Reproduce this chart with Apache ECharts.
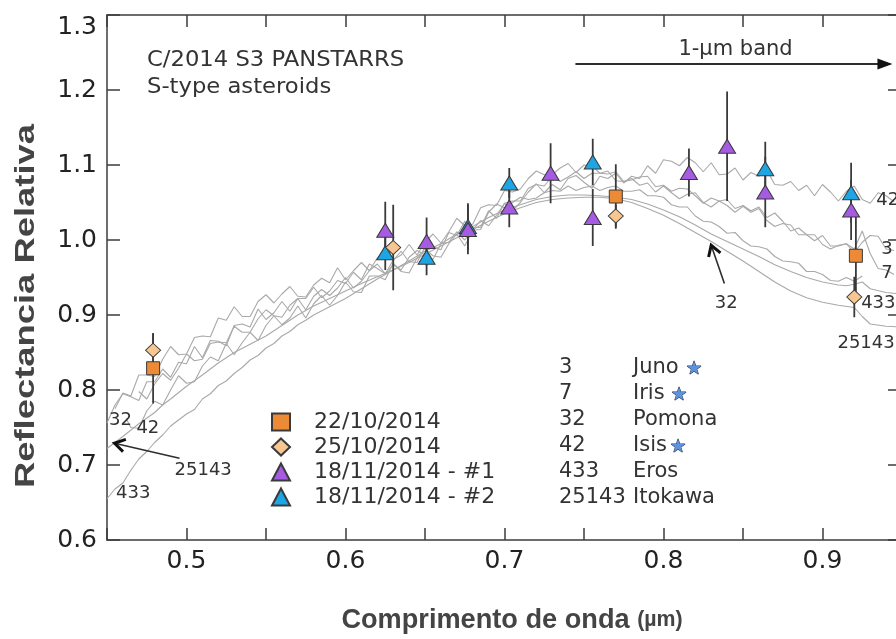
<!DOCTYPE html>
<html>
<head>
<meta charset="utf-8">
<script src="https://cdn.jsdelivr.net/npm/echarts@6/dist/echarts.min.js"></script>
<style>
  html, body { margin: 0; padding: 0; background: #fff; }
  #chart { width: 896px; height: 639px; }
</style>
</head>
<body>
<div id="chart"></div>
<script>
// ---- Axis ticks ----
const xTicks = [0.45, 0.95, 0.05];
const yTicks = [0.6, 1.3, 0.1];

// ---- Comet photometry: wavelength (µm), relative reflectance, 1-sigma error ----
const oct22Wave = [0.479, 0.770, 0.921];
const oct22Refl = [0.829, 1.058, 0.979];
const oct22Err  = [0.047, 0.043, 0.052];

const oct25Wave = [0.479, 0.630, 0.770, 0.920];
const oct25Refl = [0.853, 0.990, 1.032, 0.924];
const oct25Err  = [0.022, 0.057, 0.015, 0.027];

const nov18aWave = [0.625, 0.651, 0.677, 0.703, 0.729, 0.7555, 0.816, 0.840, 0.864, 0.918];
const nov18aRefl = [1.013, 0.998, 1.014, 1.044, 1.089, 1.030, 1.090, 1.125, 1.064, 1.040];
const nov18aErr  = [0.038, 0.032, 0.033, 0.027, 0.040, 0.038, 0.032, 0.073, 0.047, 0.040];

const nov18bWave = [0.625, 0.651, 0.677, 0.703, 0.7555, 0.864, 0.918];
const nov18bRefl = [0.983, 0.977, 1.018, 1.076, 1.104, 1.095, 1.063];
const nov18bErr  = [0.023, 0.024, 0.031, 0.020, 0.031, 0.036, 0.040];

// ---- S-type asteroid reference spectra [wavelength, reflectance] ----
const juno = [
[0.455,0.775],[0.460,0.796],[0.465,0.792],[0.470,0.820],[0.475,0.820],[0.480,0.818],[0.485,0.841],[0.490,0.858],
[0.495,0.847],[0.500,0.848],[0.505,0.870],[0.510,0.872],[0.515,0.871],[0.520,0.896],[0.525,0.893],[0.530,0.911],
[0.535,0.898],[0.540,0.898],[0.545,0.918],[0.550,0.927],[0.555,0.916],[0.560,0.928],[0.565,0.938],[0.570,0.925],
[0.575,0.924],[0.580,0.940],[0.585,0.949],[0.590,0.943],[0.595,0.963],[0.600,0.947],[0.605,0.959],[0.610,0.970],
[0.615,0.959],[0.620,0.976],[0.625,0.986],[0.630,0.974],[0.635,0.980],[0.640,0.994],[0.645,0.980],[0.650,0.997],
[0.655,1.008],[0.660,0.996],[0.665,1.011],[0.670,1.029],[0.675,1.019],[0.680,1.021],[0.685,1.043],[0.690,1.047],
[0.695,1.046],[0.700,1.066],[0.705,1.064],[0.710,1.068],[0.715,1.082],[0.720,1.092],[0.725,1.087],[0.730,1.087],
[0.735,1.096],[0.740,1.102],[0.745,1.090],[0.750,1.100],[0.755,1.099],[0.760,1.089],[0.765,1.088],[0.770,1.091],
[0.775,1.078],[0.780,1.080],[0.785,1.084],[0.790,1.085],[0.795,1.071],[0.800,1.073],[0.805,1.065],[0.810,1.069],
[0.815,1.068],[0.820,1.059],[0.825,1.049],[0.830,1.056],[0.835,1.052],[0.840,1.054],[0.845,1.042],[0.850,1.046],
[0.855,1.039],[0.860,1.044],[0.865,1.030],[0.870,1.036],[0.875,1.025],[0.880,1.012],[0.885,1.016],[0.890,1.007],
[0.895,0.999],[0.900,1.006],[0.905,0.992],[0.910,0.992],[0.915,0.995],[0.920,0.983],[0.925,0.997],[0.930,1.006],
[0.935,1.005],[0.940,0.988],[0.945,0.986]
];
const iris = [
[0.470,0.798],[0.475,0.788],[0.480,0.808],[0.485,0.822],[0.490,0.813],[0.495,0.829],[0.500,0.848],[0.505,0.839],
[0.510,0.841],[0.515,0.862],[0.520,0.864],[0.525,0.863],[0.530,0.885],[0.535,0.877],[0.540,0.877],[0.545,0.895],
[0.550,0.907],[0.555,0.899],[0.560,0.897],[0.565,0.913],[0.570,0.922],[0.575,0.907],[0.580,0.925],[0.585,0.934],
[0.590,0.926],[0.595,0.936],[0.600,0.950],[0.605,0.936],[0.610,0.945],[0.615,0.959],[0.620,0.968],[0.625,0.955],
[0.630,0.967],[0.635,0.960],[0.640,0.977],[0.645,0.986],[0.650,0.980],[0.655,0.974],[0.660,0.995],[0.665,0.997],
[0.670,1.011],[0.675,1.000],[0.680,1.016],[0.685,1.017],[0.690,1.039],[0.695,1.029],[0.700,1.049],[0.705,1.052],
[0.710,1.052],[0.715,1.069],[0.720,1.074],[0.725,1.072],[0.730,1.085],[0.735,1.078],[0.740,1.084],[0.745,1.091],
[0.750,1.082],[0.755,1.089],[0.760,1.089],[0.765,1.092],[0.770,1.079],[0.775,1.078],[0.780,1.082],[0.785,1.073],
[0.790,1.076],[0.795,1.064],[0.800,1.072],[0.805,1.063],[0.810,1.055],[0.815,1.061],[0.820,1.063],[0.825,1.050],
[0.830,1.044],[0.835,1.052],[0.840,1.046],[0.845,1.037],[0.850,1.045],[0.855,1.037],[0.860,1.042],[0.865,1.026],
[0.870,1.018],[0.875,1.022],[0.880,1.020],[0.885,1.007],[0.890,1.007],[0.895,1.007],[0.900,0.994],[0.905,0.988],
[0.910,0.993],[0.915,0.995],[0.920,0.988],[0.925,1.012],[0.930,0.982],[0.935,0.962],[0.940,0.960],[0.945,0.954]
];
const pomona = [
[0.450,0.756],[0.455,0.780],[0.460,0.795],[0.465,0.791],[0.470,0.786],[0.475,0.811],[0.480,0.811],[0.485,0.828],
[0.490,0.817],[0.495,0.837],[0.500,0.835],[0.505,0.858],[0.510,0.843],[0.515,0.866],[0.520,0.865],[0.525,0.859],
[0.530,0.886],[0.535,0.888],[0.540,0.884],[0.545,0.908],[0.550,0.894],[0.555,0.903],[0.560,0.918],[0.565,0.905],
[0.570,0.922],[0.575,0.922],[0.580,0.937],[0.585,0.923],[0.590,0.932],[0.595,0.946],[0.600,0.942],[0.605,0.957],
[0.610,0.947],[0.615,0.968],[0.620,0.962],[0.625,0.955],[0.630,0.973],[0.635,0.985],[0.640,0.971],[0.645,0.970],
[0.650,0.991],[0.655,0.991],[0.660,0.987],[0.665,1.010],[0.670,1.006],[0.675,1.025],[0.680,1.013],[0.685,1.014],
[0.690,1.037],[0.695,1.048],[0.700,1.043],[0.705,1.050],[0.710,1.057],[0.715,1.054],[0.720,1.056],[0.725,1.063],
[0.730,1.066],[0.735,1.065],[0.740,1.072],[0.745,1.066],[0.750,1.070],[0.755,1.072],[0.760,1.066],[0.765,1.070],
[0.770,1.072],[0.775,1.065],[0.780,1.065],[0.785,1.067],[0.790,1.059],[0.795,1.059],[0.800,1.057],[0.805,1.047],
[0.810,1.044],[0.815,1.044],[0.820,1.032],[0.825,1.025],[0.830,1.024],[0.835,1.018],[0.840,1.009],[0.845,1.010],
[0.850,0.999],[0.855,0.992],[0.860,0.991],[0.865,0.988],[0.870,0.978],[0.875,0.972],[0.880,0.971],[0.885,0.969],
[0.890,0.958],[0.895,0.958],[0.900,0.954],[0.905,0.946],[0.910,0.945],[0.915,0.950],[0.920,0.945],[0.925,0.952]
];
const isis = [
[0.462,0.762],[0.465,0.750],[0.470,0.749],[0.475,0.772],[0.480,0.785],[0.485,0.780],[0.490,0.800],[0.495,0.819],
[0.500,0.809],[0.505,0.811],[0.510,0.832],[0.515,0.844],[0.520,0.839],[0.525,0.862],[0.530,0.847],[0.535,0.863],
[0.540,0.877],[0.545,0.866],[0.550,0.886],[0.555,0.899],[0.560,0.887],[0.565,0.896],[0.570,0.912],[0.575,0.896],
[0.580,0.915],[0.585,0.926],[0.590,0.913],[0.595,0.926],[0.600,0.944],[0.605,0.931],[0.610,0.930],[0.615,0.952],
[0.620,0.952],[0.625,0.947],[0.630,0.969],[0.635,0.958],[0.640,0.956],[0.645,0.976],[0.650,0.988],[0.655,0.979],
[0.660,0.977],[0.665,0.995],[0.670,1.008],[0.675,0.992],[0.680,1.013],[0.685,1.026],[0.690,1.019],[0.695,1.033],
[0.700,1.049],[0.705,1.039],[0.710,1.050],[0.715,1.064],[0.720,1.075],[0.725,1.063],[0.730,1.074],[0.735,1.067],
[0.740,1.082],[0.745,1.086],[0.750,1.077],[0.755,1.069],[0.760,1.085],[0.765,1.082],[0.770,1.089],[0.775,1.076],
[0.780,1.085],[0.785,1.082],[0.790,1.099],[0.795,1.089],[0.800,1.107],[0.805,1.105],[0.810,1.099],[0.815,1.110],
[0.820,1.103],[0.825,1.091],[0.830,1.103],[0.835,1.087],[0.840,1.088],[0.845,1.096],[0.850,1.080],[0.855,1.090],
[0.860,1.085],[0.865,1.093],[0.870,1.074],[0.875,1.073],[0.880,1.078],[0.885,1.066],[0.890,1.073],[0.895,1.059],
[0.900,1.074],[0.905,1.064],[0.910,1.052],[0.915,1.065],[0.920,1.072],[0.925,1.054],[0.930,1.049],[0.935,1.063],
[0.940,1.059],[0.945,1.051]
];
const eros = [
[0.450,0.655],[0.455,0.668],[0.460,0.676],[0.465,0.693],[0.470,0.708],[0.475,0.718],[0.480,0.730],[0.485,0.740],
[0.490,0.752],[0.495,0.760],[0.500,0.768],[0.505,0.774],[0.510,0.788],[0.515,0.795],[0.520,0.806],[0.525,0.812],
[0.530,0.822],[0.535,0.830],[0.540,0.840],[0.545,0.846],[0.550,0.856],[0.555,0.862],[0.560,0.872],[0.565,0.878],
[0.570,0.887],[0.575,0.893],[0.580,0.900],[0.590,0.911],[0.600,0.922],[0.610,0.935],[0.620,0.948],[0.630,0.960],
[0.640,0.972],[0.650,0.985],[0.660,0.995],[0.670,1.008],[0.680,1.018],[0.690,1.030],[0.700,1.040],[0.710,1.047],
[0.720,1.054],[0.730,1.058],[0.740,1.060],[0.750,1.060],[0.760,1.059],[0.770,1.057],[0.780,1.054],[0.790,1.048],
[0.800,1.040],[0.810,1.031],[0.820,1.020],[0.830,1.008],[0.840,0.998],[0.850,0.988],[0.860,0.978],[0.870,0.967],
[0.880,0.958],[0.890,0.950],[0.900,0.944],[0.910,0.940],[0.915,0.939],[0.920,0.941],[0.925,0.944],[0.930,0.935],
[0.940,0.930],[0.950,0.928],[0.960,0.930]
];
const itokawa = [
[0.450,0.722],[0.460,0.738],[0.470,0.755],[0.480,0.770],[0.485,0.780],[0.490,0.788],[0.500,0.805],[0.510,0.820],
[0.520,0.836],[0.530,0.850],[0.540,0.861],[0.550,0.872],[0.560,0.886],[0.570,0.900],[0.580,0.912],[0.590,0.922],
[0.600,0.932],[0.610,0.942],[0.620,0.951],[0.630,0.960],[0.640,0.970],[0.650,0.981],[0.660,0.992],[0.670,1.003],
[0.680,1.014],[0.690,1.025],[0.700,1.035],[0.710,1.043],[0.720,1.050],[0.730,1.054],[0.740,1.056],[0.750,1.057],
[0.760,1.057],[0.770,1.055],[0.780,1.050],[0.790,1.042],[0.800,1.033],[0.810,1.022],[0.820,1.010],[0.830,0.998],
[0.840,0.985],[0.850,0.972],[0.860,0.958],[0.870,0.944],[0.880,0.932],[0.890,0.923],[0.900,0.917],[0.910,0.913],
[0.920,0.910],[0.925,0.898],[0.930,0.888],[0.940,0.885],[0.950,0.884],[0.960,0.883]
];

// ---- Legend table of the reference asteroids ----
const asteroidNumbers = ['3', '7', '32', '42', '433', '25143'];
const asteroidNames = ['Juno', 'Iris', 'Pomona', 'Isis', 'Eros', 'Itokawa'];
const asteroidStarX = [694, 679, null, 678, null, null];

const chart = echarts.init(document.getElementById('chart'), null, { renderer: 'canvas' });

const tickFont = 'DejaVu Sans';
const textFont = 'DejaVu Sans';
const axisColor = '#3c3c3c';

function zip3(w, r, e) { return w.map((x, i) => [x, r[i], e[i]]); }
function zip2(w, r) { return w.map((x, i) => [x, r[i]]); }

function errorBars(name, data) {
  return {
    type: 'custom', name: name, silent: true, z: 2,
    data: data,
    renderItem: function (params, api) {
      const x = api.value(0), y = api.value(1), e = api.value(2);
      const p1 = api.coord([x, y + e]);
      const p2 = api.coord([x, y - e]);
      return { type: 'line', shape: { x1: p1[0], y1: p1[1], x2: p2[0], y2: p2[1] },
               style: { stroke: '#3a3a3a', lineWidth: 1.8 } };
    }
  };
}

function spectrum(name, data) {
  return { type: 'line', name: name, data: data, showSymbol: false, silent: true, z: 1,
           lineStyle: { color: '#a9a9a9', width: 1.1 } };
}

function scatter(name, data, symbol, size, color) {
  return { type: 'scatter', name: name, data: data, symbol: symbol, symbolSize: size, z: 4,
           itemStyle: { color: color, borderColor: '#3a3a3a', borderWidth: 1, opacity: 1 } };
}

const option = {
  animation: false,
  backgroundColor: '#ffffff',
  grid: { left: 107, top: 15, width: 795, height: 525, outerBoundsMode: 'none', containLabel: false },
  xAxis: [{
    type: 'value', min: xTicks[0], max: xTicks[1], interval: xTicks[2],
    axisLine: { lineStyle: { color: axisColor, width: 1.5 } },
    axisTick: { inside: true, length: 12, lineStyle: { color: axisColor, width: 1.5 } },
    splitLine: { show: false },
    axisLabel: {
      margin: 9, color: '#222', fontFamily: tickFont, fontSize: 25,
      formatter: v => (Math.round(v * 100) % 10 === 0 && v > 0.46 && v < 0.94) ? v.toFixed(1) : ''
    }
  }, {
    type: 'value', position: 'top', min: xTicks[0], max: xTicks[1], interval: xTicks[2],
    axisLine: { lineStyle: { color: axisColor, width: 1.5 } },
    axisTick: { inside: true, length: 12, lineStyle: { color: axisColor, width: 1.5 } },
    splitLine: { show: false }, axisLabel: { show: false }
  }],
  yAxis: [{
    type: 'value', min: yTicks[0], max: yTicks[1], interval: yTicks[2],
    axisLine: { show: true, lineStyle: { color: axisColor, width: 1.5 } },
    axisTick: { show: true, inside: true, length: 13, lineStyle: { color: axisColor, width: 1.5 } },
    splitLine: { show: false },
    axisLabel: { margin: 10, color: '#222', fontFamily: tickFont, fontSize: 25,
                 formatter: v => v.toFixed(1), verticalAlignMaxLabel: 'top' }
  }, {
    type: 'value', position: 'right', min: yTicks[0], max: yTicks[1], interval: yTicks[2],
    axisLine: { show: true, lineStyle: { color: axisColor, width: 1.5 } },
    axisTick: { show: true, inside: true, length: 14, lineStyle: { color: axisColor, width: 1.5 } },
    splitLine: { show: false }, axisLabel: { show: false }
  }],
  legend: {
    orient: 'vertical', left: 266, top: 406, itemWidth: 18, itemHeight: 17, itemGap: 3,
    selectedMode: false,
    data: ['22/10/2014', '25/10/2014', '18/11/2014 - #1', '18/11/2014 - #2'],
    textStyle: { fontFamily: textFont, fontSize: 22, color: '#333', padding: [0, 0, 0, 19] }
  },
  series: [
    spectrum('3 Juno', juno),
    spectrum('7 Iris', iris),
    spectrum('32 Pomona', pomona),
    spectrum('42 Isis', isis),
    spectrum('433 Eros', eros),
    spectrum('25143 Itokawa', itokawa),
    errorBars('err-nov18b', zip3(nov18bWave, nov18bRefl, nov18bErr)),
    errorBars('err-nov18a', zip3(nov18aWave, nov18aRefl, nov18aErr)),
    errorBars('err-oct22', zip3(oct22Wave, oct22Refl, oct22Err)),
    errorBars('err-oct25', zip3(oct25Wave, oct25Refl, oct25Err)),
    scatter('18/11/2014 - #2', zip2(nov18bWave, nov18bRefl), 'triangle', [17, 14], '#1ea5e3'),
    scatter('18/11/2014 - #1', zip2(nov18aWave, nov18aRefl), 'triangle', [17, 14], '#a65be3'),
    scatter('22/10/2014', zip2(oct22Wave, oct22Refl), 'rect', [13, 13], '#ec8a35'),
    scatter('25/10/2014', zip2(oct25Wave, oct25Refl), 'diamond', [15, 14], '#f8c690')
  ]
};
chart.setOption(option);

// ---- Annotations placed in data coordinates ----
const px = (x, y) => chart.convertToPixel({ xAxisIndex: 0, yAxisIndex: 0 }, [x, y]);
const ink = '#2e2e2e';
const g = [];

function label(text, x, y, size, align) {
  const p = px(x, y);
  g.push({ type: 'text', x: p[0], y: p[1], silent: true, z: 10,
           style: { text: text, fill: '#333', font: size + 'px "' + textFont + '"',
                    textAlign: align || 'center', textVerticalAlign: 'middle' } });
}
function chevronArrow(x0, y0, x1, y1) {
  const a = px(x0, y0), b = px(x1, y1);
  const ang = Math.atan2(b[1] - a[1], b[0] - a[0]);
  const L = 12, spread = 0.55;
  const h1 = [b[0] - L * Math.cos(ang - spread), b[1] - L * Math.sin(ang - spread)];
  const h2 = [b[0] - L * Math.cos(ang + spread), b[1] - L * Math.sin(ang + spread)];
  g.push({ type: 'line', silent: true, z: 10, shape: { x1: a[0], y1: a[1], x2: b[0], y2: b[1] },
           style: { stroke: ink, lineWidth: 1.6 } });
  g.push({ type: 'polyline', silent: true, z: 10, shape: { points: [h1, b, h2] },
           style: { stroke: '#111', lineWidth: 3, fill: null, lineJoin: 'miter' } });
}

// curve labels
label('32', 0.4585, 0.760, 18);
label('42', 0.4757, 0.749, 18);
label('433', 0.4665, 0.662, 18);
label('25143', 0.5105, 0.693, 18);
chevronArrow(0.4956, 0.709, 0.4547, 0.729);
label('32', 0.8395, 0.916, 18);
chevronArrow(0.8383, 0.942, 0.8300, 0.993);
label('42', 0.9338, 1.053, 18, 'left');
label('3', 0.9369, 0.987, 18, 'left');
label('7', 0.9369, 0.956, 18, 'left');
label('433', 0.9243, 0.916, 18, 'left');
label('25143', 0.9094, 0.862, 18, 'left');

// 1-µm band arrow
(function () {
  const a = px(0.7446, 1.2347), b = px(0.9440, 1.2347);
  g.push({ type: 'line', silent: true, z: 10, shape: { x1: a[0], y1: a[1], x2: b[0] - 10, y2: b[1] },
           style: { stroke: ink, lineWidth: 1.8 } });
  g.push({ type: 'polygon', silent: true, z: 10,
           shape: { points: [[b[0], b[1]], [b[0] - 15, b[1] - 5.5], [b[0] - 15, b[1] + 5.5]] },
           style: { fill: '#111' } });
  const t = px(0.8453, 1.2533);
  g.push({ type: 'text', x: t[0], y: t[1], silent: true, z: 10,
           style: { text: '1-µm band', fill: '#333', font: '21px "' + textFont + '"',
                    textAlign: 'center', textVerticalAlign: 'middle' } });
})();

// title block
g.push({ type: 'text', x: 147, y: 61, scaleX: 1.08, silent: true, z: 10,
         style: { text: 'C/2014 S3 PANSTARRS', fill: '#333', font: '21px "' + textFont + '"', textVerticalAlign: 'middle' } });
g.push({ type: 'text', x: 147, y: 88, scaleX: 1.08, silent: true, z: 10,
         style: { text: 'S-type asteroids', fill: '#333', font: '21px "' + textFont + '"', textVerticalAlign: 'middle' } });

// asteroid table
asteroidNumbers.forEach((num, i) => {
  const y = 368 + i * 26;
  g.push({ type: 'text', x: 559, y: y, silent: true, z: 10,
           style: { text: num, fill: '#333', font: '21px "' + textFont + '"', textVerticalAlign: 'middle' } });
  g.push({ type: 'text', x: 633, y: y, silent: true, z: 10,
           style: { text: asteroidNames[i], fill: '#333', font: '21px "' + textFont + '"', textVerticalAlign: 'middle' } });
  if (asteroidStarX[i] !== null) {
    g.push({ type: 'text', x: asteroidStarX[i], y: y + 1, silent: true, z: 10,
             style: { text: '★', fill: '#5d93de', stroke: '#2c3550', lineWidth: 1,
                      font: '18px "' + textFont + '"', textAlign: 'center', textVerticalAlign: 'middle' } });
  }
});

// axis titles
g.push({ type: 'text', x: 26, y: 306, rotation: Math.PI / 2, scaleX: 1.3, silent: true, z: 10,
         style: { text: 'Reflectancia Relativa', fill: '#444', font: 'bold 28px "Liberation Sans"',
                  textAlign: 'center', textVerticalAlign: 'middle' } });
g.push({ type: 'text', x: 512, y: 620, scaleX: 0.97, silent: true, z: 10,
         style: { text: '{a|Comprimento de onda }{b|(µm)}', textAlign: 'center', textVerticalAlign: 'middle',
                  rich: { a: { font: 'bold 28px "Liberation Sans"', fill: '#444' },
                          b: { font: 'bold 22px "Liberation Sans"', fill: '#444' } } } });

chart.setOption({ graphic: g });
</script>
</body>
</html>
